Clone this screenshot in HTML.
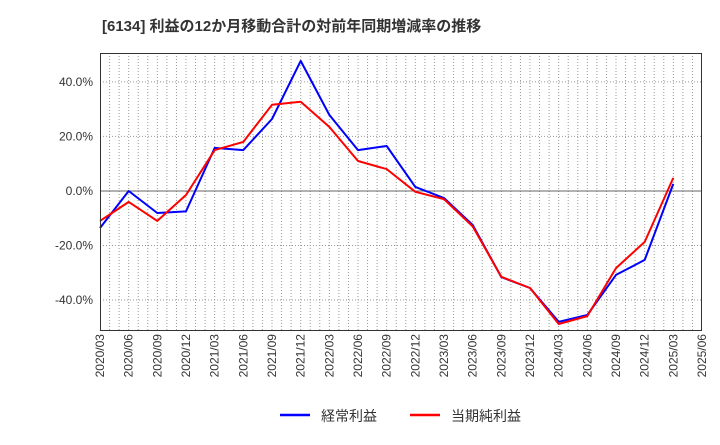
<!DOCTYPE html>
<html><head><meta charset="utf-8"><style>
body{margin:0;background:#fff;}
svg text{font-family:"Liberation Sans","Noto Sans CJK JP",sans-serif;}
</style></head><body>
<svg id="chart" width="720" height="440" xmlns="http://www.w3.org/2000/svg">
<text x="102" y="31" font-size="15" font-weight="bold" fill="#333">[6134]  利益の12か月移動合計の対前年同期増減率の推移</text>
<g id="grid"></g>
<g id="series"></g>
<rect x="100.5" y="53.5" width="601" height="277" fill="none" stroke="#333" stroke-width="1"/>
<g id="axes"></g>
<g>
<g><line x1="280" y1="415" x2="310" y2="415" stroke="#0000ff" stroke-width="2.5"/><text x="321" y="421" font-size="14" fill="#333">経常利益</text></g>
<g><line x1="410" y1="415" x2="440" y2="415" stroke="#ff0000" stroke-width="2.5"/><text x="451" y="421" font-size="14" fill="#333">当期純利益</text></g>
</g>
</svg>
<script>
const categories=["2020/03","2020/06","2020/09","2020/12","2021/03","2021/06","2021/09","2021/12","2022/03","2022/06","2022/09","2022/12","2023/03","2023/06","2023/09","2023/12","2024/03","2024/06","2024/09","2024/12","2025/03","2025/06"];
const keijoValues=[-13.6,0,-8.1,-7.5,15.8,15,26.4,47.7,27.9,15,16.5,1.5,-2.6,-12.5,-31.6,-35.6,-48,-45.5,-30.8,-25.3,2.6];
const tokiValues=[-11,-4,-11,-1.5,15,18,31.6,32.7,23.5,11,8,-0.3,-3,-13,-31.5,-35.6,-48.8,-45.9,-28.3,-18.7,4.8];
const yTicks=[-40,-20,0,20,40];
const yTickLabels=["-40.0%","-20.0%","0.0%","20.0%","40.0%"];
const NS="http://www.w3.org/2000/svg";
const L=100,R=702,T=53,B=330,yMin=-51,yMax=50.6;
const step=(R-L)/(categories.length-1);
const xs=i=>L+i*step;
const ys=v=>B-(v-yMin)/(yMax-yMin)*(B-T);
const grid=document.getElementById('grid'),axes=document.getElementById('axes'),ser=document.getElementById('series');
function mk(t,a,p){const e=document.createElementNS(NS,t);for(const k in a)e.setAttribute(k,a[k]);p.appendChild(e);return e;}
for(let m=1;m<(categories.length-1)*3;m++){
  const x=L+m*step/3;
  const g=mk('line',{x1:x,x2:x,y1:T,y2:B,stroke:'#999','stroke-dasharray':'1,2','stroke-width':1},grid);
  
  
}
yTicks.forEach((v,i)=>{
  const y=ys(v);
  const g=mk('line',{x1:L,x2:R,y1:y,y2:y,stroke:v===0?'#666':'#999','stroke-dasharray':v===0?'':'1,2','stroke-width':1},grid);
  
  
  const t=mk('text',{x:L-7,y:y+4,'font-size':12,'text-anchor':'end',fill:'#333'},axes);
  t.textContent=yTickLabels[i];
  
  
});
categories.forEach((c,i)=>{
  const x=xs(i)+4,y=334;
  const t=mk('text',{x:x,y:y,'font-size':12,'text-anchor':'end',fill:'#333',transform:`rotate(-90 ${x} ${y})`},axes);
  t.textContent=c;
  
  
});
function line(vals,color,name){
  const d=vals.map((v,i)=>(i?'L':'M')+xs(i).toFixed(1)+' '+ys(v).toFixed(1)).join(' ');
  const p=mk('path',{d:d,fill:'none',stroke:color,'stroke-width':2,'stroke-linejoin':'round'},ser);
  
  
}
line(keijoValues,'#0000ff','keijo-line');
line(tokiValues,'#ff0000','toki-line');
</script>
</body></html>
